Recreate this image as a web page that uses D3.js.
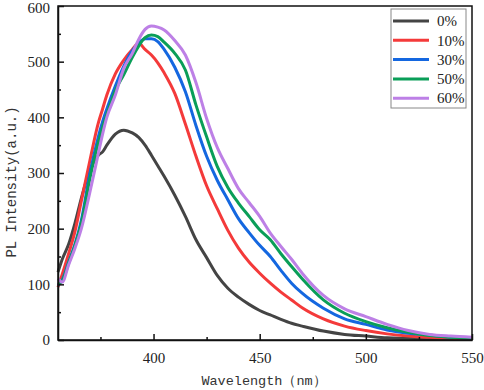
<!DOCTYPE html>
<html>
<head>
<meta charset="utf-8">
<script src="https://cdn.jsdelivr.net/npm/d3@7"></script>
<style>
  body { margin: 0; background: #fff; }
  svg { display: block; }
  .axis path, .axis line { stroke: #111; stroke-width: 1.5; }
</style>
</head>
<body>
<div id="chart"></div>
<script>
// wavelength grid (nm)
const wavelength = [355, 357, 360, 363, 366, 370, 374, 376, 378, 382, 386, 390, 393, 396, 399, 402, 405, 410, 415, 420, 425, 430, 435, 440, 445, 450, 455, 460, 465, 470, 480, 490, 500, 510, 520, 530, 540, 550];

// PL intensity per sample
const s0 = [122, 145, 172, 210, 255, 305, 332, 338, 350, 370, 377, 372, 364, 350, 332, 313, 294, 260, 222, 180, 148, 116, 93, 77, 64, 53, 45, 37, 30, 25, 16, 10, 7, 4, 3, 2, 1, 1];
const s10 = [95, 118, 155, 195, 250, 322, 390, 415, 440, 478, 503, 522, 533, 522, 512, 498, 480, 443, 388, 330, 277, 236, 197, 165, 140, 120, 102, 86, 72, 58, 38, 25, 17, 11, 7, 5, 3, 1];
const s30 = [98, 108, 140, 172, 215, 299, 365, 392, 415, 456, 492, 520, 533, 541, 541, 536, 522, 490, 446, 385, 330, 287, 252, 218, 193, 170, 150, 125, 102, 84, 57, 38, 28, 18, 12, 9, 5, 3];
const s50 = [100, 106, 138, 170, 210, 290, 355, 382, 405, 448, 477, 508, 528, 543, 548, 545, 535, 515, 485, 422, 365, 312, 274, 246, 222, 198, 180, 155, 132, 110, 72, 48, 33, 22, 14, 8, 5, 3];
const s60 = [110, 104, 135, 165, 200, 265, 335, 370, 400, 440, 488, 515, 540, 558, 564, 562, 557, 538, 512, 462, 398, 346, 308, 272, 247, 222, 192, 168, 145, 120, 80, 56, 42, 28, 17, 10, 7, 5];

const seriesNames = ["0%", "10%", "30%", "50%", "60%"];
const seriesValues = [s0, s10, s30, s50, s60];
const colors = ["#444444", "#f43a3a", "#1467e0", "#0a9e58", "#bd80e6"];

const yTicks = [0, 100, 200, 300, 400, 500, 600];
const xTicks = [400, 450, 500, 550];

const serif = "'Liberation Serif', 'Times New Roman', serif";
const mono = "'Liberation Mono', 'Courier New', monospace";

const W = 484, H = 390;
const margin = { top: 6, right: 12, bottom: 50, left: 58 };
const innerW = W - margin.left - margin.right;
const innerH = H - margin.top - margin.bottom;

const svg = d3.select("#chart").append("svg").attr("width", W).attr("height", H);
const g = svg.append("g").attr("transform", `translate(${margin.left},${margin.top})`);

const x = d3.scaleLinear().domain([355, 550]).range([0, innerW]);
const y = d3.scaleLinear().domain([0, 600]).range([innerH, 0]);

// curves
const line = d3.line()
  .x(d => x(d[0]))
  .y(d => y(d[1]))
  .curve(d3.curveMonotoneX);

seriesValues.forEach((vals, i) => {
  g.append("path")
    .datum(wavelength.map((w, j) => [w, vals[j]]))
    .attr("fill", "none")
    .attr("stroke", colors[i])
    .attr("stroke-width", 3)
    .attr("stroke-linejoin", "round")
    .attr("d", line);
});

// frame
g.append("rect")
  .attr("width", innerW).attr("height", innerH)
  .attr("fill", "none").attr("stroke", "#111").attr("stroke-width", 1.5);

// minor ticks
g.append("g").attr("class", "axis")
  .call(d3.axisLeft(y).tickValues(d3.range(50, 600, 100)).tickSize(-3).tickFormat(""))
  .select(".domain").remove();
g.append("g").attr("class", "axis").attr("transform", `translate(0,${innerH})`)
  .call(d3.axisBottom(x).tickValues([375, 425, 475, 525]).tickSize(-3).tickFormat(""))
  .select(".domain").remove();

// major axes
const yAxis = g.append("g").attr("class", "axis")
  .call(d3.axisLeft(y).tickValues(yTicks).tickSize(-6).tickPadding(8).tickSizeOuter(0));
const xAxis = g.append("g").attr("class", "axis").attr("transform", `translate(0,${innerH})`)
  .call(d3.axisBottom(x).tickValues(xTicks).tickSize(-6).tickPadding(12).tickSizeOuter(0));
[yAxis, xAxis].forEach(a => a.attr("font-family", serif).attr("font-size", 15)
  .selectAll("text").attr("fill", "#222"));
yAxis.selectAll(".tick text").filter(d => d === 600).attr("dy", "0.45em");

// titles
svg.append("text")
  .attr("x", 264).attr("y", 385)
  .attr("text-anchor", "middle")
  .attr("font-family", mono).attr("font-size", 13.5).attr("fill", "#333")
  .text("Wavelength（nm）");
svg.append("text")
  .attr("transform", "translate(16,182) rotate(-90)")
  .attr("text-anchor", "middle")
  .attr("font-family", mono).attr("font-size", 14).attr("fill", "#333")
  .text("PL Intensity(a.u.)");

// legend
const legend = svg.append("g");
legend.append("rect")
  .attr("x", 391).attr("y", 9).attr("width", 75).attr("height", 99)
  .attr("fill", "#fff").attr("stroke", "#888").attr("stroke-width", 1);
seriesNames.forEach((name, i) => {
  const ly = 21 + i * 19.3;
  legend.append("line")
    .attr("x1", 393).attr("x2", 429).attr("y1", ly).attr("y2", ly)
    .attr("stroke", colors[i]).attr("stroke-width", 3);
  legend.append("text")
    .attr("x", 437).attr("y", ly).attr("dy", "0.35em")
    .attr("font-family", serif).attr("font-size", 15).attr("fill", "#222")
    .text(name);
});
</script>
</body>
</html>
